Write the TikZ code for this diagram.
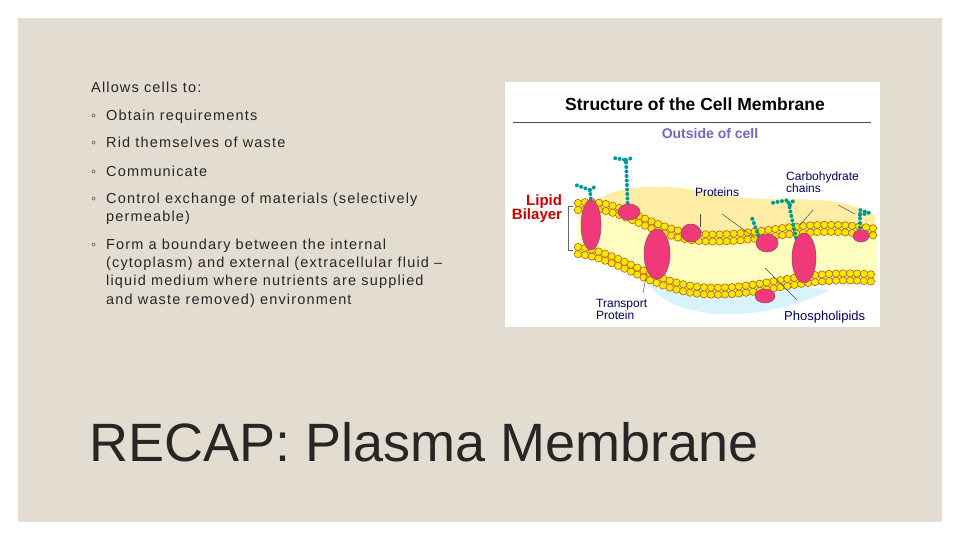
\documentclass[tikz,border=0pt]{standalone}
\usepackage{fontspec}
\setmainfont{Liberation Sans}
\begin{document}
\begin{tikzpicture}[x=1pt,y=-1pt,
  body/.style={anchor=base west,inner sep=0pt,font=\fontsize{14.5}{16}\selectfont\addfontfeature{LetterSpace=8},text=black!85},
  lbl/.style={inner sep=0pt,font=\fontsize{12}{13}\selectfont,text=blue!40!black,align=left},
  prot/.style={fill=magenta!60!red!80!white,draw=magenta!50!black,line width=0.5pt},
  carb/.style={draw=teal!80!cyan,line width=4pt,dash pattern=on 0pt off 4.5pt,line cap=round},
  lead/.style={draw=black!70,line width=0.5pt}]
\fill[white] (0,0) rectangle (960,540);
\useasboundingbox (0,0) rectangle (960,540);
\fill[fill={rgb,255:red,227;green,221;blue,209}] (18,18) rectangle (942,522);
% left text
\node[body] (t0) at (91,93) {Allows cells to:};
\node[body] (t1) at (91,121) {\makebox[15pt][l]{◦}Obtain requirements};
\node[body] (t2) at (91,148) {\makebox[15pt][l]{◦}Rid themselves of waste};
\node[body] (t3) at (91,176) {\makebox[15pt][l]{◦}Communicate};
\node[body] (t4) at (91,203) {\makebox[15pt][l]{◦}Control exchange of materials (selectively};
\node[body] (t4b) at (106,221) {permeable)};
\node[body] (t5) at (91,249) {\makebox[15pt][l]{◦}Form a boundary between the internal};
\node[body] (t5b) at (106,267) {(cytoplasm) and external (extracellular fluid –};
\node[body] (t5c) at (106,285) {liquid medium where nutrients are supplied};
\node[body] (t5d) at (106,304) {and waste removed) environment};
\node[anchor=base west,inner sep=0pt,font=\fontsize{54}{60}\selectfont,text=black!85] (title) at (89,461) {RECAP: Plasma Membrane};
% image
\fill[white] (505,82) rectangle (880,327);
\node[font=\bfseries\fontsize{17.5}{19}\selectfont,inner sep=0pt] (st) at (695,104) {Structure of the Cell Membrane};
\draw[black!70,line width=0.6pt] (513,122) -- (871,122);
\node[font=\bfseries\fontsize{14}{15}\selectfont,text={rgb,255:red,120;green,100;blue,200},inner sep=0pt] (out) at (710,133) {Outside of cell};
% orange backdrop and blue shadow
\fill[orange!40!yellow!35] (585,212) .. controls (600,185) and (660,180) .. (720,195) .. controls (780,205) and (830,190) .. (875,215) -- (875,240) -- (585,225) -- cycle;
\fill[cyan!15] (640,270) .. controls (660,325) and (760,325) .. (830,290) -- (760,280) -- cycle;
% membrane band
\fill[yellow!25] (578,203) .. controls (620,196) and (650,231) .. (700,234) .. controls (760,238) and (800,216) .. (877,229)
  -- (877,282) .. controls (800,274) and (760,299) .. (700,294) .. controls (650,289) and (620,259) .. (578,254) -- cycle;
\foreach \o in {0,7}{
\draw[orange!70!black,line width=8pt,dash pattern=on 0pt off 7pt,line cap=round]
 (578,203+\o) .. controls (620,196+\o) and (650,231+\o) .. (700,234+\o) .. controls (760,238+\o) and (800,216+\o) .. (877,229+\o);
\draw[yellow!90!orange,line width=6.5pt,dash pattern=on 0pt off 7pt,line cap=round]
 (578,203+\o) .. controls (620,196+\o) and (650,231+\o) .. (700,234+\o) .. controls (760,238+\o) and (800,216+\o) .. (877,229+\o);
\draw[orange!70!black,line width=8pt,dash pattern=on 0pt off 7pt,line cap=round]
 (578,254-\o) .. controls (620,259-\o) and (650,289-\o) .. (700,294-\o) .. controls (760,299-\o) and (800,274-\o) .. (877,282-\o);
\draw[yellow!90!orange,line width=6.5pt,dash pattern=on 0pt off 7pt,line cap=round]
 (578,254-\o) .. controls (620,259-\o) and (650,289-\o) .. (700,294-\o) .. controls (760,299-\o) and (800,274-\o) .. (877,282-\o);
}
% carbohydrate chains
\draw[carb] (592,212) -- (590,190) -- (576,185); \draw[carb] (590,190) -- (596,186);
\draw[carb] (628,212) -- (626,160) -- (614,158); \draw[carb] (626,160) -- (632,158);
\draw[carb] (760,240) -- (752,218);
\draw[carb] (796,238) -- (788,200) -- (772,203); \draw[carb] (790,205) -- (794,200);
\draw[carb] (860,232) -- (860,210) -- (866,212); \draw[carb] (860,215) -- (872,212);
% proteins
\draw[prot] (591,225) ellipse (10pt and 25pt);
\draw[prot] (629,212) ellipse (11pt and 8pt);
\draw[prot] (657,254) ellipse (13pt and 25pt);
\draw[prot] (691,233) ellipse (10pt and 9pt);
\draw[prot] (767,243) ellipse (11pt and 9pt);
\draw[prot] (804,258) ellipse (12pt and 25pt);
\draw[prot] (765,296) ellipse (10pt and 7pt);
\draw[prot] (861,236) ellipse (8pt and 6pt);
% labels
\node[font=\bfseries\fontsize{15}{16}\selectfont,text=red!80!black,align=right,inner sep=0pt] (lb) at (537,209) {Lipid\\[-2pt]Bilayer};
\draw[black!60,line width=0.6pt] (573,206) -- (568,206) -- (568,250) -- (573,250);
\node[lbl] (pr) at (717,192) {Proteins};
\node[lbl,anchor=west] (cc) at (786,182) {Carbohydrate\\[-1pt]chains};
\node[lbl,anchor=west] (tp) at (596,309) {Transport\\[-1pt]Protein};
\node[lbl,font=\fontsize{13}{14}\selectfont,anchor=west] (pl) at (784,317) {Phospholipids};
\draw[lead] (700,214) -- (700,227);
\draw[lead] (722,214) -- (755,238);
\draw[lead] (813,210) -- (800,225);
\draw[lead] (838,205) -- (855,214);
\draw[lead] (646,277) -- (643,293);
\draw[lead] (765,268) -- (797,300);
\end{tikzpicture}
\end{document}
